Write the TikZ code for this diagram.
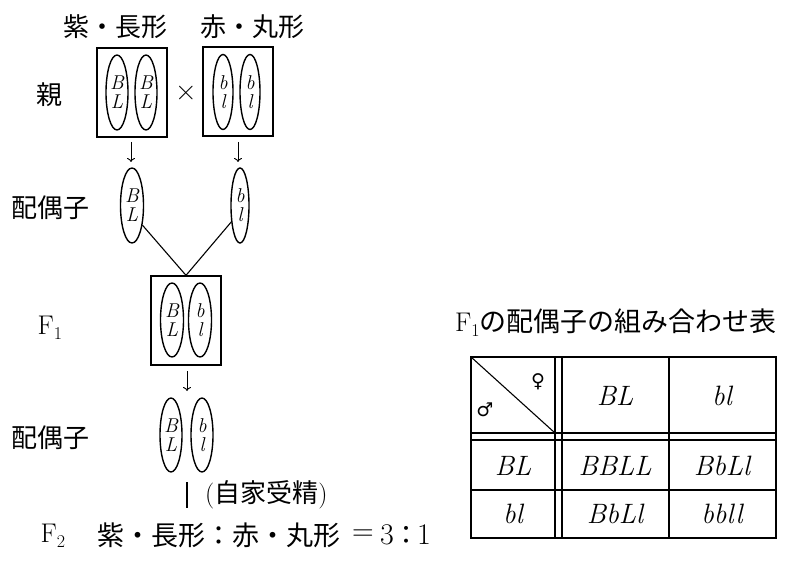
\documentclass[tikz,border=0pt]{standalone}
\usepackage{fontspec}
\newfontfamily\jp{Noto Sans CJK JP}
\newfontfamily\dv{DejaVu Sans}
\newfontfamily\lmr{Latin Modern Roman}
\newcommand\lowsub[1]{\raisebox{-5pt}{\fontsize{18}{18}\selectfont #1}}
\usetikzlibrary{shapes.geometric,arrows.meta}
\tikzset{
  jptext/.style={inner sep=0pt, font=\jp\fontsize{26}{30}\selectfont},
  lmtext/.style={inner sep=0pt, font=\lmr\fontsize{30}{34}\selectfont},
  chrom/.style={draw, ellipse, line width=1.4pt, inner sep=0pt, minimum width=22pt, minimum height=75pt, align=center, font=\lmr\itshape\fontsize{20}{19}\selectfont},
  pbox/.style={draw, line width=1.3pt},
  darrow/.style={line width=0.9pt, -{To[length=4pt,width=8pt]}},
  thin/.style={line width=1.1pt},
  tab/.style={inner sep=0pt, font=\lmr\itshape\fontsize{28}{30}\selectfont},
  sym/.style={inner sep=0pt, font=\dv\fontsize{19}{22}\selectfont}
}
\begin{document}
\begin{tikzpicture}[x=1pt,y=-1pt]
\useasboundingbox (0,0) rectangle (787,561);
% top labels
\node[jptext] (lab1) at (115,27) {紫・長形};
\node[jptext] (lab2) at (252,27) {赤・丸形};
\node[jptext] (oya) at (49,95) {親};
% parent boxes
\node[pbox, minimum width=70pt, minimum height=89pt, inner sep=0pt] (p1) at (132,92.5) {};
\node[chrom] (p1a) at (117,92.5) {B\\L};
\node[chrom] (p1b) at (146,92.5) {B\\L};
\node[lmtext] (cross) at (186,93) {×};
\node[pbox, minimum width=70pt, minimum height=89pt, inner sep=0pt] (p2) at (238,91.5) {};
\node[chrom, minimum width=20pt] (p2a) at (223,92) {b\\l};
\node[chrom, minimum width=20pt] (p2b) at (250,92) {b\\l};
% arrows to gametes
\coordinate (a1s) at (131,142);
\coordinate (a1e) at (131,162);
\coordinate (a2s) at (238,142);
\coordinate (a2e) at (238,162);
\draw[darrow] (a1s) -- (a1e);
\draw[darrow] (a2s) -- (a2e);
% gametes
\node[jptext] (haig1) at (50,208) {配偶子};
\node[chrom, minimum width=23pt] (g1) at (132,205.5) {B\\L};
\node[chrom, minimum width=18pt] (g2) at (240,205.5) {b\\l};
% F1
\node[lmtext, font=\lmr\fontsize{27}{30}\selectfont] (f1lab) at (50,328) {F\lowsub{1}};
\node[pbox, minimum width=70pt, minimum height=89pt, inner sep=0pt] (f1) at (186,320.5) {};
\node[chrom, minimum width=23pt, minimum height=74pt] (f1a) at (172,320) {B\\L};
\node[chrom, minimum width=23pt, minimum height=74pt] (f1b) at (200,320) {b\\l};
\draw[thin] (g1.-62) -- (f1.north) -- (g2.-118);
% arrow to F1 gametes
\coordinate (a3s) at (187,371);
\coordinate (a3e) at (187,391);
\draw[darrow] (a3s) -- (a3e);
\node[jptext] (haig2) at (50,438) {配偶子};
\node[chrom, minimum height=74pt] (h1) at (171,435) {B\\L};
\node[chrom, minimum height=74pt] (h2) at (202,435) {b\\l};
% self-fertilization
\coordinate (bs) at (187,482);
\coordinate (be) at (187,508);
\draw[line width=1.7pt] (bs) -- (be);
\node[jptext, anchor=west] (jika) at (205,495) {{\lmr(}自家受精{\lmr)}};
% F2 line
\node[lmtext, font=\lmr\fontsize{27}{30}\selectfont] (f2lab) at (53,536) {F\lowsub{2}};
\node[jptext, font=\jp\fontsize{27}{30}\selectfont, anchor=west] (ratio) at (97,535) {紫・長形：赤・丸形};
\node[lmtext] (eq) at (363,535) {=};
\node[lmtext] (three) at (387,535) {3};
\node[jptext] (colon) at (406,535) {：};
\node[lmtext] (one) at (424,535) {1};
% table title
\node[jptext, font=\jp\fontsize{27}{30}\selectfont, anchor=west] (ttl) at (455,323) {{\lmr F\lowsub{1}}の配偶子の組み合わせ表};
% table
\coordinate (t00) at (471,357);
\coordinate (t11) at (776,538);
\draw[line width=1.8pt] (t00) rectangle (t11);
\coordinate (v1t) at (555,357); \coordinate (v1b) at (555,538);
\coordinate (v2t) at (562,357); \coordinate (v2b) at (562,538);
\coordinate (v3t) at (669,357); \coordinate (v3b) at (669,538);
\coordinate (h1l) at (471,433); \coordinate (h1r) at (776,433);
\coordinate (h2l) at (471,440); \coordinate (h2r) at (776,440);
\coordinate (h3l) at (471,490); \coordinate (h3r) at (776,490);
\draw[thin] (v1t) -- (v1b) (v2t) -- (v2b) (v3t) -- (v3b);
\draw[thin] (h1l) -- (h1r) (h2l) -- (h2r) (h3l) -- (h3r);
\coordinate (diagE) at (555,433);
\draw[thin] (t00) -- (diagE);
\node[sym] (fem) at (538,382) {♀};
\node[sym] (mal) at (485,410) {♂};
\node[tab] (c12) at (615,396) {BL};
\node[tab] (c13) at (722,396) {bl};
\node[tab] (c21) at (513,466) {BL};
\node[tab] (c22) at (615,466) {BBLL};
\node[tab] (c23) at (722,466) {BbLl};
\node[tab] (c31) at (513,514) {bl};
\node[tab] (c32) at (615,514) {BbLl};
\node[tab] (c33) at (722,514) {bbll};
\end{tikzpicture}
\end{document}
